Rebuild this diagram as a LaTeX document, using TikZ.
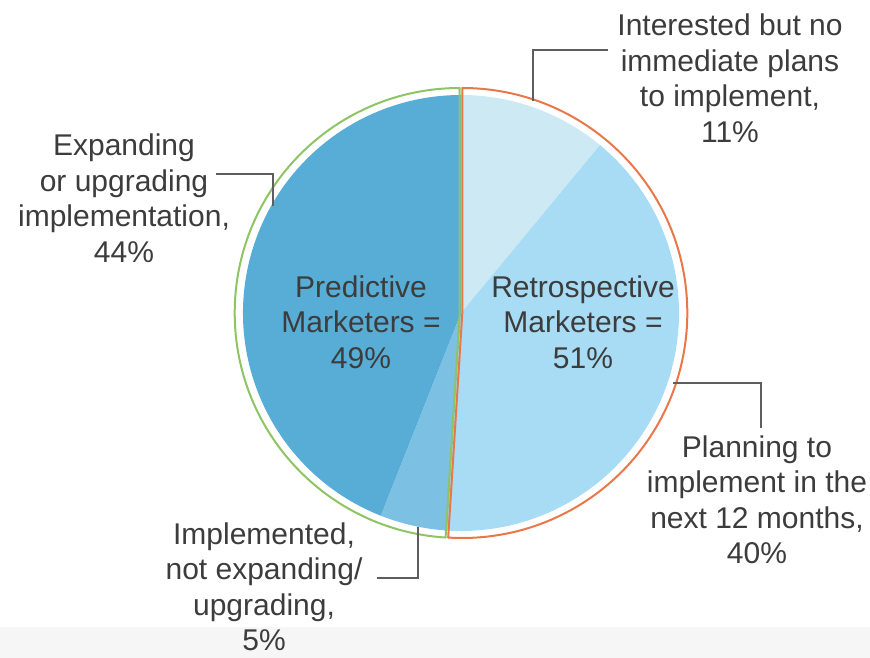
\documentclass[tikz,border=0pt]{standalone}
\usepackage{fontspec}
\setmainfont{Liberation Sans}
\definecolor{cExp}{HTML}{58ADD6}
\definecolor{cImp}{HTML}{7CC1E4}
\definecolor{cPlan}{HTML}{A7DCF4}
\definecolor{cInt}{HTML}{CDEAF4}
\definecolor{cGreen}{HTML}{8EC463}
\definecolor{cOrange}{HTML}{E8784A}
\definecolor{cLead}{HTML}{5E5E5E}
\definecolor{cText}{HTML}{3C3C3C}
\definecolor{cBand}{HTML}{F6F6F6}
\tikzset{
  lbl/.style={align=center, inner sep=0pt, text=cText, font=\fontsize{30}{35.5}\selectfont},
  leader/.style={draw=cLead, line width=1.8pt},
  ring/.style={line width=2pt, line join=round},
}
\begin{document}
\begin{tikzpicture}[x=1pt,y=-1pt]
\useasboundingbox (0,0) rectangle (870,658);
\fill[cBand] (0,627) rectangle (870,658);
\begin{scope}[shift={(461,313)}, y=1pt]
  \fill[cInt] (0,0) -- (90:218) arc[start angle=90, end angle=50.4, radius=218] -- cycle;
  \fill[cPlan] (0,0) -- (50.4:218) arc[start angle=50.4, end angle=-93.6, radius=218] -- cycle;
  \fill[cImp] (0,0) -- (266.4:218) arc[start angle=266.4, end angle=248.4, radius=218] -- cycle;
  \fill[cExp] (0,0) -- (248.4:218) arc[start angle=248.4, end angle=90, radius=218] -- cycle;
  \draw[ring, cGreen, xshift=-1.3pt] (0,0) -- (90:225) arc[start angle=90, end angle=266.4, radius=225] -- cycle;
  \draw[ring, cOrange, xshift=1.3pt] (0,0) -- (90:225) arc[start angle=90, end angle=-93.6, radius=225] -- cycle;
\end{scope}
\node[lbl] (int) at (730,78) {Interested but no\\immediate plans\\to implement,\\11\%};
\node[lbl] (exp) at (124,198) {Expanding\\or upgrading\\implementation,\\44\%};
\node[lbl] (pred) at (361,322) {Predictive\\Marketers =\\49\%};
\node[lbl] (retro) at (583,322) {Retrospective\\Marketers =\\51\%};
\node[lbl] (plan) at (757,500) {Planning to\\implement in the\\next 12 months,\\40\%};
\node[lbl] (imp) at (264,587) {Implemented,\\not expanding/\\upgrading,\\5\%};
\coordinate (intA) at (608,50);
\coordinate (intB) at (533,50);
\coordinate (intC) at (533,101);
\coordinate (expA) at (216,174);
\coordinate (expB) at (273,174);
\coordinate (expC) at (273,206);
\coordinate (planA) at (673,383);
\coordinate (planB) at (761,383);
\coordinate (planC) at (761,428);
\coordinate (impA) at (377,578);
\coordinate (impB) at (418,578);
\coordinate (impC) at (418,527);
\draw[leader] (intA) -- (intB) -- (intC);
\draw[leader] (expA) -- (expB) -- (expC);
\draw[leader] (planA) -- (planB) -- (planC);
\draw[leader] (impA) -- (impB) -- (impC);
\end{tikzpicture}
\end{document}
